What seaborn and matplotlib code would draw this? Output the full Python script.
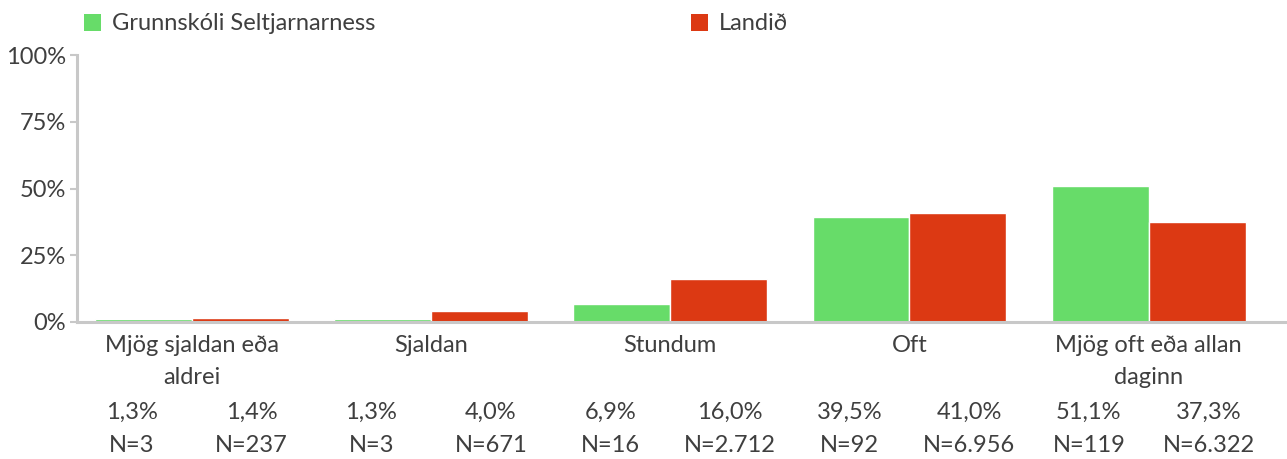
import matplotlib
matplotlib.use("Agg")
import matplotlib.pyplot as plt
import seaborn as sns
import pandas as pd
from matplotlib.patches import Patch
from matplotlib.transforms import blended_transform_factory

# Data
categories = ["Mjög sjaldan eða\naldrei", "Sjaldan", "Stundum", "Oft", "Mjög oft eða allan\ndaginn"]
groups = ["Grunnskóli Seltjarnarness", "Landið"]
school_pct = [1.3, 1.3, 6.9, 39.5, 51.1]
country_pct = [1.4, 4.0, 16.0, 41.0, 37.3]
school_n = ["3", "3", "16", "92", "119"]
country_n = ["237", "671", "2.712", "6.956", "6.322"]
y_ticks = [0, 25, 50, 75, 100]
y_ticklabels = ["0%", "25%", "50%", "75%", "100%"]

colors = ["#67dc69", "#dc3913"]
text_color = "#3f3f3f"
axis_color = "#c8c8c8"
fs = 17

df = pd.DataFrame({
    "flokkur": categories * 2,
    "hópur": [groups[0]] * len(categories) + [groups[1]] * len(categories),
    "hlutfall": school_pct + country_pct,
})

sns.set_theme(style="white")
plt.rcParams["font.family"] = ["Lato", "DejaVu Sans"]

fig = plt.figure(figsize=(12.87, 4.59), dpi=100)
W, H = 1287, 459
ax = fig.add_axes([77 / W, 1 - 322 / H, (1285 - 77) / W, (322 - 55) / H])

sns.barplot(data=df, x="flokkur", y="hlutfall", hue="hópur", order=categories,
            hue_order=groups, palette=colors, width=0.81, saturation=1,
            dodge=True, legend=False, ax=ax, errorbar=None)

ax.set_ylim(0, 100)
ax.set_xlim(-0.48, 4.57)
ax.set_yticks(y_ticks)
ax.set_yticklabels(y_ticklabels)
ax.set_xlabel("")
ax.set_ylabel("")

for s in ["top", "right"]:
    ax.spines[s].set_visible(False)
for s in ["left", "bottom"]:
    ax.spines[s].set_color(axis_color)
    ax.spines[s].set_linewidth(2.2)

ax.tick_params(axis="y", which="both", left=True, length=5, width=1.5, color=axis_color,
               labelsize=fs, labelcolor=text_color, pad=3)
ax.tick_params(axis="x", which="both", bottom=False, labelsize=fs, labelcolor=text_color, pad=3)
for lbl in ax.get_xticklabels():
    lbl.set_linespacing(1.66)

# Percentages and counts under each bar
trans = blended_transform_factory(ax.transData, ax.transAxes)
for i in range(len(categories)):
    for off, pct, n in [(-0.25, school_pct[i], school_n[i]), (0.25, country_pct[i], country_n[i])]:
        ax.annotate(f"{pct:.1f}%".replace(".", ","), xy=(i + off, 0), xycoords=trans,
                    xytext=(0, -90), textcoords="offset pixels", ha="center", va="center",
                    fontsize=fs, color=text_color)
        ax.annotate(f"N={n}", xy=(i + off, 0), xycoords=trans,
                    xytext=(0, -124), textcoords="offset pixels", ha="center", va="center",
                    fontsize=fs, color=text_color)

handles = [Patch(facecolor=c, edgecolor="none") for c in colors]
fig.legend(handles, groups, loc="center left", bbox_to_anchor=(84 / W, 1 - 24 / H),
           ncol=2, frameon=False, fontsize=fs, labelcolor=text_color,
           handlelength=0.72, handleheight=0.72, handletextpad=0.45,
           columnspacing=13.4, borderaxespad=0, borderpad=0)

fig.savefig("out.png", dpi=100)
